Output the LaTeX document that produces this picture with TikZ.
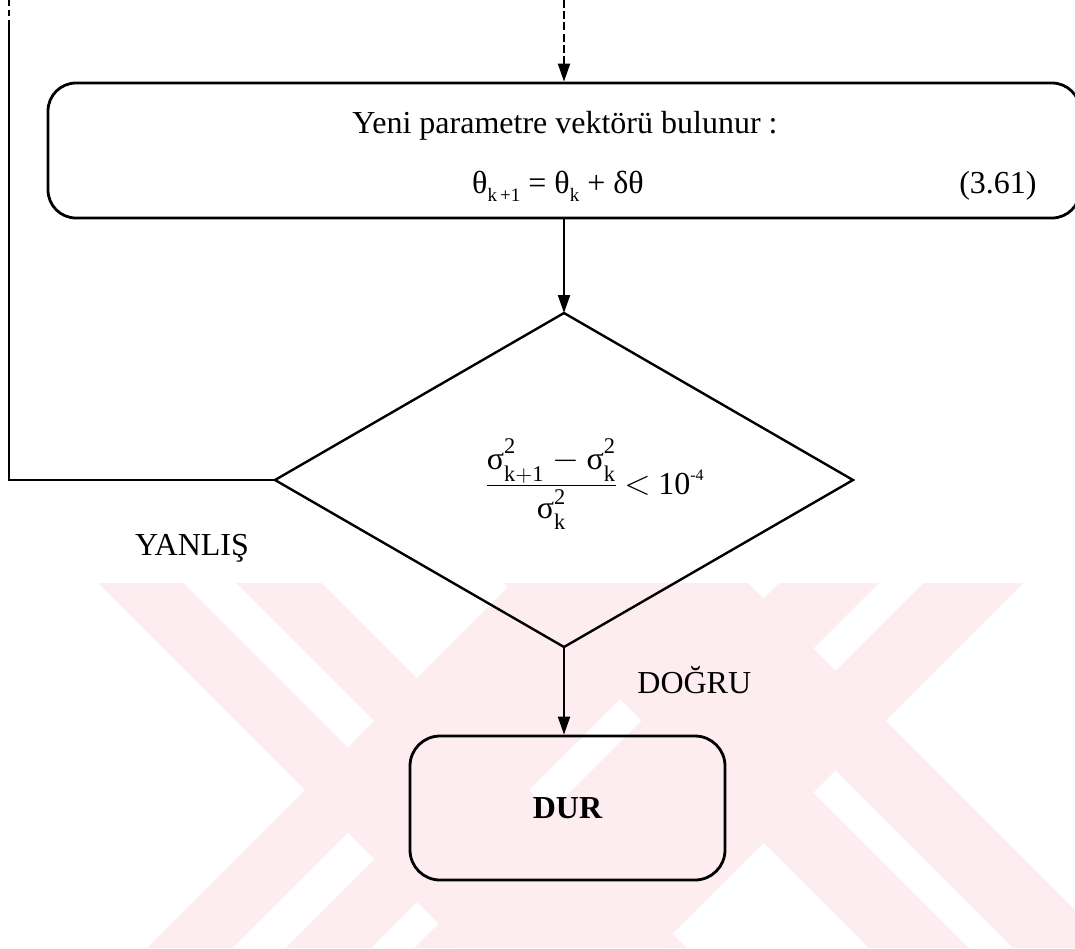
\documentclass[tikz,border=0pt]{standalone}
\usepackage{fontspec}
\setmainfont{Liberation Serif}
\usetikzlibrary{arrows.meta}
\definecolor{wmpink}{RGB}{253,236,240}
\newcommand\sgm{\mbox{σ}}
\newcommand\sq[1]{\sgm^{\raisebox{2pt}{$\scriptstyle\mathrm{2}$}}_{\raisebox{-1.5pt}{$\scriptstyle\mathrm{#1}$}}}
\newcommand\lowsub[1]{\raisebox{-4pt}{\fontsize{9.5}{10}\selectfont #1}}
\tikzset{
  box/.style={draw, line width=1.4pt, rounded corners=14pt, inner sep=0pt},
  conn/.style={line width=1pt, -{Triangle[length=9pt,width=6pt]}},
  lbl/.style={font=\fontsize{16}{19}\selectfont, inner sep=0pt},
  wm/.style={fill=wmpink, draw=none},
  wmgap/.style={fill=white, draw=none},
  dshape/.style={line width=1.2pt, line join=miter}
}
\begin{document}
\begin{tikzpicture}[x=0.5pt,y=-0.5pt]
\useasboundingbox (0,0) rectangle (1075,948);
% watermark
\begin{scope}
  \clip (0,583) rectangle (1075,948);
  \fill[wm] (98,583) -- (322,583) -- (687,948) -- (463,948) -- cycle;
  \fill[wm] (512,583) -- (736,583) -- (371,948) -- (147,948) -- cycle;
  \fill[wm] (504,583) -- (748,583) -- (1113,948) -- (869,948) -- cycle;
  \fill[wm] (779,583) -- (1023,583) -- (658,948) -- (414,948) -- cycle;
  \fill[wmgap] (183.5,583) -- (236.5,583) -- (374.25,720.75) -- (347.75,747.25) -- cycle;
  \fill[wmgap] (347.75,832.75) -- (374.25,859.25) -- (285.5,948) -- (232.5,948) -- cycle;
  \fill[wmgap] (879,583) -- (923,583) -- (835.5,670.5) -- (813.5,648.5) -- cycle;
  \fill[wmgap] (813.5,792.5) -- (835.5,770.5) -- (1013,948) -- (969,948) -- cycle;
\end{scope}
% top box
\node[box, minimum width=516pt, minimum height=67.5pt] (upd) at (564,150.5) {};
\node[lbl, anchor=base] (t1) at (565,133) {Yeni parametre vektörü bulunur :};
\node[lbl, anchor=base] (eq) at (558,193) {θ\lowsub{k\,+1} = θ\lowsub{k} + δθ};
\node[lbl, anchor=base east] (num) at (1037,193) {(3.61)};
% incoming
\coordinate (topin) at (564,0);
\draw[conn, dash pattern=on 4pt off 1.6pt] (topin) -- (upd.north);
% diamond
\coordinate (dT) at (564,313);
\coordinate (dR) at (853,480);
\coordinate (dB) at (564,647);
\coordinate (dL) at (275,480);
\draw[dshape] (dT) -- (dR) -- (dB) -- (dL) -- cycle;
\node[lbl, anchor=west] (cond) at (484,484) {$\displaystyle\frac{\sq{k+1}-\sq{k}}{\rule{0pt}{14pt}\sq{k}}\mkern-2mu<\mkern-1mu\mathrm{10}^{\mbox{\fontsize{8}{8}\selectfont -4}}$};
\draw[conn] (upd.south) -- (dT);
% stop box
\node[box, rounded corners=15pt, minimum width=157.5pt, minimum height=72pt, font=\fontsize{16}{19}\selectfont\bfseries] (dur) at (567.5,808) {DUR};
\draw[conn] (dB) -- (dB |- dur.north);
% return path
\coordinate (ltop) at (9,0);
\coordinate (lbrk) at (9,26);
\draw[line width=1pt, dash pattern=on 3pt off 2pt] (ltop) -- (lbrk);
\draw[line width=1pt] (dL) -| (lbrk);
% labels
\node[lbl, anchor=base] (no) at (192,555) {YANLIŞ};
\node[lbl, anchor=base west] (yes) at (637,693) {DOĞRU};
\end{tikzpicture}
\end{document}
